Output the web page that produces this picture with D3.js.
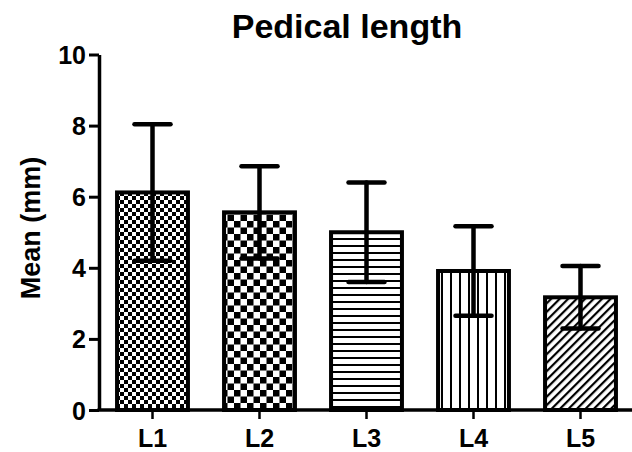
<!DOCTYPE html>
<html><head><meta charset="utf-8">
<script src="https://cdn.jsdelivr.net/npm/d3@7"></script>
<style>
body{margin:0;background:#fff;}
svg{display:block;font-family:"Liberation Sans",Arial,sans-serif;font-weight:bold;}
</style></head><body>
<svg id="c" width="632" height="452"></svg>
<script>
const categories = ["L1","L2","L3","L4","L5"];
const means = [6.12, 5.56, 5.0, 3.91, 3.17];
const errors = [1.92, 1.30, 1.40, 1.26, 0.88];
const yTicks = [0,2,4,6,8,10];
const patterns = ["fineCheck","bigCheck","hLines","vLines","diag"];

const svg = d3.select("#c");
const x = d3.scaleBand().domain(categories).range([99, 634]).paddingInner(0.3).paddingOuter(0.15);
const y = d3.scaleLinear().domain([0,10]).range([410, 54.5]);

const defs = svg.append("defs");
let p = defs.append("pattern").attr("id","fineCheck").attr("patternUnits","userSpaceOnUse").attr("width",8).attr("height",8);
p.append("rect").attr("width",8).attr("height",8).attr("fill","#fff");
p.append("rect").attr("width",4).attr("height",4).attr("fill","#000");
p.append("rect").attr("x",4).attr("y",4).attr("width",4).attr("height",4).attr("fill","#000");
p = defs.append("pattern").attr("id","bigCheck").attr("patternUnits","userSpaceOnUse").attr("width",13).attr("height",13);
p.append("rect").attr("width",13).attr("height",13).attr("fill","#fff");
p.append("rect").attr("width",6.5).attr("height",6.5).attr("fill","#000");
p.append("rect").attr("x",6.5).attr("y",6.5).attr("width",6.5).attr("height",6.5).attr("fill","#000");
p = defs.append("pattern").attr("id","hLines").attr("patternUnits","userSpaceOnUse").attr("width",7).attr("height",7);
p.append("rect").attr("width",7).attr("height",7).attr("fill","#fff");
p.append("rect").attr("y",0).attr("width",7).attr("height",2).attr("fill","#000");
p = defs.append("pattern").attr("id","vLines").attr("patternUnits","userSpaceOnUse").attr("width",9).attr("height",9);
p.append("rect").attr("width",9).attr("height",9).attr("fill","#fff");
p.append("rect").attr("x",0).attr("width",2).attr("height",9).attr("fill","#000");
p = defs.append("pattern").attr("id","diag").attr("patternUnits","userSpaceOnUse").attr("width",6).attr("height",6).attr("patternTransform","rotate(45)");
p.append("rect").attr("width",6).attr("height",6).attr("fill","#fff");
p.append("rect").attr("x",0).attr("width",2.2).attr("height",6).attr("fill","#000");

svg.append("text").attr("x",347).attr("y",38).attr("text-anchor","middle").attr("font-size",34).text("Pedical length");

svg.append("text").attr("transform","translate(40,228) rotate(-90)").attr("text-anchor","middle").attr("font-size",27).text("Mean (mm)");

const data = categories.map((c,i)=>({c, m:means[i], e:errors[i], p:patterns[i]}));
svg.append("g").selectAll("rect").data(data).join("rect")
  .attr("x", d=>x(d.c)+2).attr("width", x.bandwidth()-4)
  .attr("y", d=>y(d.m)).attr("height", d=>y(0)-y(d.m))
  .attr("fill", d=>`url(#${d.p})`).attr("stroke","#000").attr("stroke-width",4);

const eb = svg.append("g").attr("stroke","#000").attr("stroke-width",4.5).attr("stroke-linecap","round");
const cx = d=>x(d.c)+x.bandwidth()/2;
eb.selectAll(".v").data(data).join("line").attr("x1",cx).attr("x2",cx).attr("y1",d=>y(d.m+d.e)).attr("y2",d=>y(d.m-d.e));
eb.selectAll(".t").data(data).join("line").attr("x1",d=>cx(d)-18).attr("x2",d=>cx(d)+18).attr("y1",d=>y(d.m+d.e)).attr("y2",d=>y(d.m+d.e));
eb.selectAll(".b").data(data).join("line").attr("x1",d=>cx(d)-18).attr("x2",d=>cx(d)+18).attr("y1",d=>y(d.m-d.e)).attr("y2",d=>y(d.m-d.e));

const ya = svg.append("g").attr("transform","translate(99,0)")
  .call(d3.axisLeft(y).tickValues(yTicks).tickSize(10).tickSizeOuter(0).tickPadding(3));
ya.attr("font-size",null).attr("font-family",null);
ya.select(".domain").attr("stroke-width",3.5);
ya.selectAll(".tick line").attr("stroke-width",3);
ya.selectAll(".tick text").style("font-size","25px").style("font-weight","bold").attr("fill","#000").attr("dy","0.36em");

const xa = svg.append("g").attr("transform","translate(0,410)")
  .call(d3.axisBottom(x).tickSize(9).tickSizeOuter(0).tickPadding(10));
xa.attr("font-size",null).attr("font-family",null);
xa.select(".domain").attr("stroke-width",3.5).attr("d","M97.5,0H632");
xa.selectAll(".tick line").attr("stroke-width",2.5);
xa.selectAll(".tick text").style("font-size","25px").style("font-weight","bold").attr("fill","#000");
</script>
</body></html>
